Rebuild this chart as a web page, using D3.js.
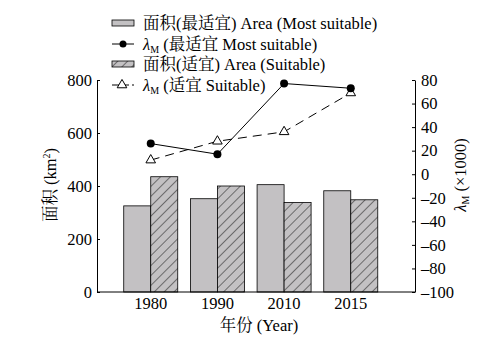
<!DOCTYPE html>
<html><head><meta charset="utf-8">
<script src="https://cdn.jsdelivr.net/npm/d3@7"></script>
<style>body{margin:0;background:#fff}svg{display:block}text{font-family:"Liberation Serif","Times New Roman","Noto Serif CJK SC","Noto Sans CJK SC",serif;fill:#000}</style>
</head><body><svg id="c" width="487" height="341"></svg>
<script>
const years = ["1980","1990","2010","2015"];
const areaMost = [325, 352, 405, 382];
const areaSuit = [435, 400, 338, 348];
const lambdaMost = [26, 17, 77, 73];
const lambdaSuit = [12, 28, 36, 69];
const leftTicks = [0,200,400,600,800];
const rightTicks = [-100,-80,-60,-40,-20,0,20,40,60,80];

const svg = d3.select("#c");
const L = 97, R = 415, T = 80, B = 292;
const x = d3.scaleBand().domain(years).range([117.4, 384.1]).paddingInner(0.19).paddingOuter(0.095);
const xs = d3.scaleBand().domain(["most","suit"]).range([0, x.bandwidth()]);
const yL = d3.scaleLinear().domain([0,800]).range([B,T]);
const yR = d3.scaleLinear().domain([-100,80]).range([B,T]);

const defs = svg.append("defs");
const pat = defs.append("pattern").attr("id","hatch").attr("patternUnits","userSpaceOnUse")
  .attr("width",7).attr("height",7).attr("patternTransform","rotate(45)");
pat.append("rect").attr("width",7).attr("height",7).attr("fill","#c3c1c3");
pat.append("line").attr("x1",0).attr("y1",0).attr("x2",0).attr("y2",7).attr("stroke","#000").attr("stroke-width",0.9);

const gray = "#c3c1c3";
// bars
const g = svg.append("g");
years.forEach((yr,i)=>{
  g.append("rect").attr("x", x(yr)+xs("most")).attr("y", yL(areaMost[i]))
    .attr("width", xs.bandwidth()).attr("height", B - yL(areaMost[i]))
    .attr("fill", gray).attr("stroke","#000").attr("stroke-width",0.8);
  g.append("rect").attr("x", x(yr)+xs("suit")).attr("y", yL(areaSuit[i]))
    .attr("width", xs.bandwidth()).attr("height", B - yL(areaSuit[i]))
    .attr("fill", "url(#hatch)").attr("stroke","#000").attr("stroke-width",0.8);
});

// axes
const axL = svg.append("g").attr("transform",`translate(${L},0)`)
  .call(d3.axisLeft(yL).tickValues(leftTicks).tickSizeInner(-3).tickSizeOuter(0).tickPadding(5).tickFormat(d3.format("d")));
const axR = svg.append("g").attr("transform",`translate(${R},0)`)
  .call(d3.axisRight(yR).tickValues(rightTicks).tickSizeInner(-3).tickSizeOuter(0).tickPadding(6)
  .tickFormat(d=> d<0 ? "\u2013"+Math.abs(d) : d));
const axB = svg.append("g").attr("transform",`translate(0,${B})`)
  .call(d3.axisBottom(x).tickSize(0).tickPadding(5));
axB.select(".domain").attr("d",`M${L},0H${R}`);
[axL,axR,axB].forEach(a=>{
  a.selectAll("text").style("font-size","16.5px").style("font-family",'"Liberation Serif",serif');
  a.selectAll("path,line").attr("stroke","#000").attr("stroke-width",1);
});

// lines
const cx = (yr)=> x(yr)+x.bandwidth()/2;
const lineM = d3.line().x((d,i)=>cx(years[i])).y(d=>yR(d));
svg.append("path").datum(lambdaMost).attr("d",lineM).attr("fill","none").attr("stroke","#000").attr("stroke-width",1);
svg.append("path").datum(lambdaSuit).attr("d",lineM).attr("fill","none").attr("stroke","#000").attr("stroke-width",1).attr("stroke-dasharray","9,6");
const tri = d3.symbol().type(d3.symbolTriangle).size(40);
lambdaSuit.forEach((v,i)=>{
  svg.append("path").attr("d",tri).attr("transform",`translate(${cx(years[i])},${yR(v)})`)
    .attr("fill","#fff").attr("stroke","#000").attr("stroke-width",1);
});
lambdaMost.forEach((v,i)=>{
  svg.append("circle").attr("cx",cx(years[i])).attr("cy",yR(v)).attr("r",4).attr("fill","#000");
});

// axis titles
svg.append("text").attr("transform",`translate(56,185) rotate(-90)`).attr("text-anchor","middle")
  .style("font-size","16.5px").html('面积 (km<tspan dy="-6" font-size="10">2</tspan><tspan dy="6">)</tspan>');
svg.append("text").attr("transform",`translate(466,175) rotate(-90)`).attr("text-anchor","middle")
  .style("font-size","16.5px").html('<tspan font-style="italic">λ</tspan><tspan font-size="10" dy="3">M</tspan><tspan dy="-3"> (×1000)</tspan>');
svg.append("text").attr("x",259).attr("y",331).attr("text-anchor","middle").style("font-size","16.5px").text("年份 (Year)");

// legend
const lg = svg.append("g");
const lx0 = 112, lx1 = 134, tx = 143;
const rows = [23, 44, 64, 85];
const labels = [
  '面积(最适宜) Area (Most suitable)',
  '<tspan font-style="italic">λ</tspan><tspan font-size="10" dy="3">M</tspan><tspan dy="-3"> (最适宜 Most suitable)</tspan>',
  '面积(适宜) Area (Suitable)',
  '<tspan font-style="italic">λ</tspan><tspan font-size="10" dy="3">M</tspan><tspan dy="-3"> (适宜 Suitable)</tspan>'
];
lg.append("rect").attr("x",lx0).attr("y",rows[0]-3).attr("width",lx1-lx0).attr("height",6).attr("fill",gray).attr("stroke","#000").attr("stroke-width",0.8);
lg.append("line").attr("x1",lx0).attr("x2",lx1).attr("y1",rows[1]).attr("y2",rows[1]).attr("stroke","#000");
lg.append("circle").attr("cx",(lx0+lx1)/2).attr("cy",rows[1]).attr("r",3.5).attr("fill","#000");
lg.append("rect").attr("x",lx0).attr("y",rows[2]-3).attr("width",lx1-lx0).attr("height",6).attr("fill","url(#hatch)").attr("stroke","#000").attr("stroke-width",0.8);
lg.append("line").attr("x1",lx0).attr("x2",lx1).attr("y1",rows[3]).attr("y2",rows[3]).attr("stroke","#000").attr("stroke-dasharray","7,3");
lg.append("path").attr("d",tri).attr("transform",`translate(${(lx0+lx1)/2-1},${rows[3]})`).attr("fill","#fff").attr("stroke","#000");
labels.forEach((t,i)=>{
  lg.append("text").attr("x",tx).attr("y",rows[i]+5.5).style("font-size","16.5px").html(t);
});
</script></body></html>
